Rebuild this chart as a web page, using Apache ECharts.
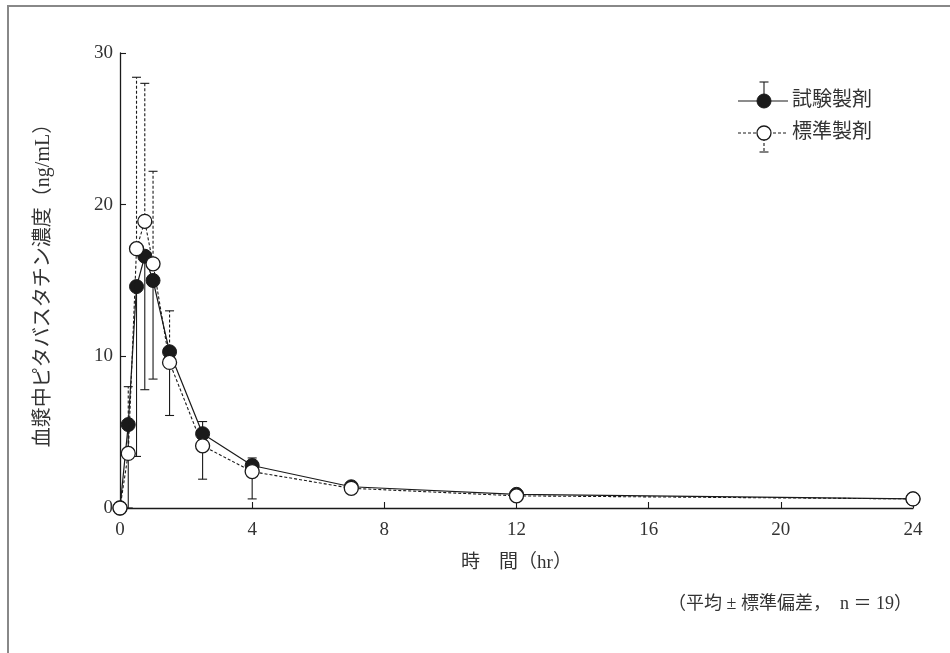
<!DOCTYPE html>
<html>
<head>
<meta charset="utf-8">
<script src="https://cdn.jsdelivr.net/npm/echarts/dist/echarts.min.js"></script>
<style>
html,body{margin:0;padding:0;background:#fff;}
#chart{width:950px;height:653px;}
</style>
</head>
<body>
<div id="chart"></div>
<script>
// ---- data ----
var times = [0, 0.25, 0.5, 0.75, 1, 1.5, 2.5, 4, 7, 12, 24];
var testMean = [0, 5.5, 14.6, 16.6, 15.0, 10.3, 4.9, 2.8, 1.4, 0.9, 0.6];
var refMean  = [0, 3.6, 17.1, 18.9, 16.1, 9.6, 4.1, 2.4, 1.3, 0.8, 0.6];
// error bars: [time, from (mean), to (mean ± SD)]
var testErr = [[0.25, 5.5, 0], [0.5, 14.6, 3.4], [0.75, 16.6, 7.8], [1, 15.0, 8.5], [1.5, 10.3, 6.1], [2.5, 4.9, 5.7], [4, 2.8, 3.3]];
var refErrUp = [[0.25, 3.6, 8.0], [0.5, 17.1, 28.4], [0.75, 18.9, 28.0], [1, 16.1, 22.2], [1.5, 9.6, 13.0]];
var refErrDown = [[2.5, 4.1, 1.9], [4, 2.4, 0.6]];
var xTicks = [0, 4, 8, 12, 16, 20, 24];
var yTicks = [0, 10, 20, 30];
var seriesNames = ['試験製剤', '標準製剤'];
var xName = '時　間（hr）';
var yName = '血漿中ピタバスタチン濃度（ng/mL）';
var note = '（平均 ± 標準偏差，  n ＝ 19）';

var FONT = '"Liberation Serif", "Noto Sans CJK JP", serif';
var TXT = '#333';
var INK = '#1a1a1a';

function pairs(xs, ys){ return xs.map(function(x,i){ return [x, ys[i]]; }); }

function errSeries(data, dashed){
  return {
    type: 'custom',
    z: 1,
    silent: true,
    clip: false,
    data: data,
    renderItem: function(params, api){
      var p0 = api.coord([api.value(0), api.value(1)]);
      var p1 = api.coord([api.value(0), api.value(2)]);
      var st = {stroke: INK, lineWidth: 1.1, lineDash: dashed ? [3, 2] : null};
      return {
        type: 'group',
        children: [
          {type: 'line', shape: {x1: p0[0], y1: p0[1], x2: p1[0], y2: p1[1]}, style: st},
          {type: 'line', shape: {x1: p1[0]-4.5, y1: p1[1], x2: p1[0]+4.5, y2: p1[1]}, style: {stroke: INK, lineWidth: 1.1}}
        ]
      };
    }
  };
}

var chart = echarts.init(document.getElementById('chart'), null, {renderer: 'canvas'});

var lx1 = 738, lx2 = 788, lcx = 764, ly1 = 101, ly2 = 133;

chart.setOption({
  animation: false,
  backgroundColor: '#fff',
  grid: {left: 120, right: 37, top: 53, bottom: 145, containLabel: false},
  xAxis: {
    type: 'value', min: 0, max: 24, interval: 4,
    name: xName, nameLocation: 'middle', nameGap: 46,
    nameTextStyle: {fontFamily: FONT, fontSize: 19, color: TXT},
    axisLine: {show: true, onZero: false, lineStyle: {color: INK, width: 1.3}},
    axisTick: {show: true, inside: true, length: 6, lineStyle: {color: INK, width: 1.1}},
    axisLabel: {fontFamily: FONT, fontSize: 19, color: TXT, margin: 13,
      customValues: xTicks},
    splitLine: {show: false}
  },
  yAxis: {
    type: 'value', min: 0, max: 30, interval: 10,
    name: yName, nameLocation: 'middle', nameGap: 66, nameRotate: 90,
    nameTextStyle: {fontFamily: FONT, fontSize: 20, color: TXT},
    axisLine: {show: true, onZero: false, lineStyle: {color: INK, width: 1.3}},
    axisTick: {show: true, inside: true, length: 6, lineStyle: {color: INK, width: 1.1}},
    axisLabel: {fontFamily: FONT, fontSize: 19, color: TXT, margin: 7,
      customValues: yTicks},
    splitLine: {show: false}
  },
  series: [
    errSeries(testErr, false),
    errSeries(refErrUp, true),
    errSeries(refErrDown, false),
    {
      name: seriesNames[0], type: 'line', z: 3, clip: false,
      data: pairs(times, testMean),
      symbol: 'circle', symbolSize: 14,
      lineStyle: {color: INK, width: 1.2},
      itemStyle: {color: INK, borderColor: INK, borderWidth: 1}
    },
    {
      name: seriesNames[1], type: 'line', z: 4, clip: false,
      data: pairs(times, refMean),
      symbol: 'circle', symbolSize: 14,
      lineStyle: {color: INK, width: 1.1, type: [3, 2]},
      itemStyle: {color: '#fff', borderColor: INK, borderWidth: 1.3}
    }
  ],
  graphic: [
    {type: 'rect', silent: true, shape: {x: 8, y: 6, width: 1000, height: 700},
      style: {fill: 'none', stroke: '#888', lineWidth: 2}},
    // legend row 1
    {type: 'line', shape: {x1: lx1, y1: ly1, x2: lx2, y2: ly1}, style: {stroke: INK, lineWidth: 1.2}},
    {type: 'line', shape: {x1: lcx, y1: ly1, x2: lcx, y2: ly1-19}, style: {stroke: INK, lineWidth: 1.1}},
    {type: 'line', shape: {x1: lcx-4.5, y1: ly1-19, x2: lcx+4.5, y2: ly1-19}, style: {stroke: INK, lineWidth: 1.1}},
    {type: 'circle', shape: {cx: lcx, cy: ly1, r: 7}, style: {fill: INK, stroke: INK}},
    {type: 'text', x: 792, y: ly1, style: {text: seriesNames[0], font: '20px ' + FONT, fill: TXT, verticalAlign: 'middle'}},
    // legend row 2
    {type: 'line', shape: {x1: lx1, y1: ly2, x2: lx2, y2: ly2}, style: {stroke: INK, lineWidth: 1.1, lineDash: [3, 2]}},
    {type: 'line', shape: {x1: lcx, y1: ly2, x2: lcx, y2: ly2+19}, style: {stroke: INK, lineWidth: 1.1, lineDash: [3, 2]}},
    {type: 'line', shape: {x1: lcx-4.5, y1: ly2+19, x2: lcx+4.5, y2: ly2+19}, style: {stroke: INK, lineWidth: 1.1}},
    {type: 'circle', shape: {cx: lcx, cy: ly2, r: 7}, style: {fill: '#fff', stroke: INK, lineWidth: 1.3}},
    {type: 'text', x: 792, y: ly2, style: {text: seriesNames[1], font: '20px ' + FONT, fill: TXT, verticalAlign: 'middle'}},
    // footnote
    {type: 'text', right: 38, top: 595, style: {text: note, font: '18px ' + FONT, fill: TXT}}
  ]
});
</script>
</body>
</html>
